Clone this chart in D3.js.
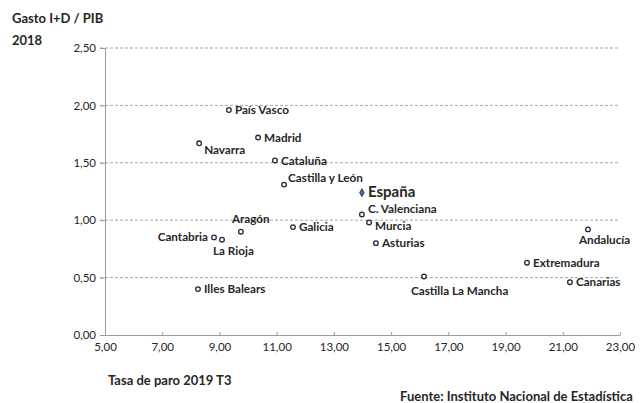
<!DOCTYPE html>
<html>
<head>
<meta charset="utf-8">
<script src="https://cdn.jsdelivr.net/npm/d3@7"></script>
<style>
  body { margin: 0; background: #fff; overflow: hidden; }
  svg { display: block; font-family: Lato, "Open Sans", sans-serif; }
</style>
</head>
<body>
<div id="chart"></div>
<script>
// scatter: tasa de paro vs gasto I+D por comunidad autonoma

const regions = ["País Vasco", "Navarra", "Madrid", "Cataluña", "Castilla y León", "España",
  "C. Valenciana", "Murcia", "Asturias", "Galicia", "Aragón", "Cantabria", "La Rioja",
  "Illes Balears", "Castilla La Mancha", "Andalucía", "Extremadura", "Canarias"];
const paro = [9.33, 8.29, 10.35, 10.94, 11.26, 13.98, 13.98, 14.23, 14.47, 11.57, 9.75,
  8.81, 9.09, 8.25, 16.15, 21.88, 19.75, 21.25];
const gastoID = [1.96, 1.67, 1.72, 1.52, 1.31, 1.24, 1.05, 0.98, 0.80, 0.94, 0.90,
  0.85, 0.83, 0.40, 0.51, 0.92, 0.63, 0.46];
// where each label sits relative to its point
const labelPos = ["right", "belowRight", "right", "right", "aboveRight", "right",
  "upRight", "downRight", "right", "right", "above", "left", "below",
  "right", "belowWide", "below", "right", "right"];

const xTicks = [5, 7, 9, 11, 13, 15, 17, 19, 21, 23];
const yTicks = [0, 0.5, 1, 1.5, 2, 2.5];

const width = 640, height = 403;
const margin = { top: 48, right: 20, bottom: 68, left: 105 };

const fmt = d => d3.format(".2f")(d).replace(".", ",");

const svg = d3.select("#chart").append("svg")
  .attr("width", width)
  .attr("height", height);

const x = d3.scaleLinear().domain([5, 23]).range([margin.left, width - margin.right]);
const y = d3.scaleLinear().domain([0, 2.5]).range([height - margin.bottom, margin.top]);

// dashed gridlines
svg.append("g")
  .selectAll("line")
  .data(yTicks.filter(d => d > 0))
  .join("line")
  .attr("x1", margin.left - 5)
  .attr("x2", width - margin.right)
  .attr("y1", d => y(d))
  .attr("y2", d => y(d))
  .attr("stroke", "#a6a6a6")
  .attr("stroke-dasharray", "3,2");

// axes
const yAxis = svg.append("g")
  .attr("transform", `translate(${margin.left},0)`)
  .call(d3.axisLeft(y).tickValues(yTicks).tickFormat(fmt).tickSize(5).tickPadding(4));
const xAxis = svg.append("g")
  .attr("transform", `translate(0,${height - margin.bottom})`)
  .call(d3.axisBottom(x).tickValues(xTicks).tickFormat(fmt).tickSizeInner(-3).tickSizeOuter(0).tickPadding(8));

[yAxis, xAxis].forEach(a => {
  a.select(".domain").attr("stroke", "#9a9a9a");
  a.selectAll(".tick line").attr("stroke", "#9a9a9a");
  a.selectAll("text").attr("fill", "#262626").style("font-size", "11.5px").style("font-family", "Lato, sans-serif");
});

// points
const pts = regions.map((r, i) => ({ name: r, x: paro[i], y: gastoID[i], pos: labelPos[i] }));

svg.append("g")
  .selectAll("circle")
  .data(pts.filter(d => d.name !== "España"))
  .join("circle")
  .attr("cx", d => x(d.x))
  .attr("cy", d => y(d.y))
  .attr("r", 2.3)
  .attr("fill", "#fff")
  .attr("stroke", "#1f2a3a")
  .attr("stroke-width", 1.3);

const esp = pts.find(d => d.name === "España");
svg.append("path")
  .attr("d", d3.symbol(d3.symbolDiamond, 18)())
  .attr("transform", `translate(${x(esp.x)},${y(esp.y)})`)
  .attr("fill", "#3d6ea8")
  .attr("stroke", "#1f2a3a")
  .attr("stroke-width", 0.8);

// labels
const offsets = {
  right: [6, 4, "start"],
  left: [-6, 4, "end"],
  below: [-9, 15, "start"],
  belowRight: [5, 11, "start"],
  above: [-9, -9, "start"],
  aboveRight: [4, -3, "start"],
  upRight: [6, -1, "start"],
  downRight: [6, 8, "start"],
  belowWide: [-13, 19, "start"]
};

svg.append("g")
  .selectAll("text")
  .data(pts)
  .join("text")
  .attr("x", d => x(d.x) + offsets[d.pos][0])
  .attr("y", d => y(d.y) + offsets[d.pos][1])
  .attr("text-anchor", d => offsets[d.pos][2])
  .style("font-size", d => d.name === "España" ? "15px" : "11.7px")
  .style("font-weight", "bold")
  .attr("fill", "#262626")
  .text(d => d.name);

// titles
const titleStyle = t => t.style("font-size", "13px").style("font-weight", "bold").attr("fill", "#262626");
svg.append("text").attr("x", 12).attr("y", 23).call(titleStyle).text("Gasto I+D / PIB");
svg.append("text").attr("x", 12).attr("y", 45).call(titleStyle).text("2018");
svg.append("text").attr("x", 108).attr("y", 385).call(titleStyle).text("Tasa de paro 2019 T3");
svg.append("text").attr("x", 400).attr("y", 401).call(titleStyle)
  .text("Fuente: Instituto Nacional de Estadística");
</script>
</body>
</html>
